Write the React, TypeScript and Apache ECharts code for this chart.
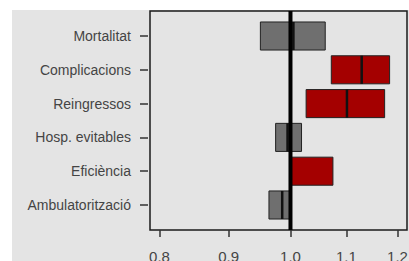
import React, { useEffect, useRef } from "react";
import * as echarts from "echarts";

// Categories, top to bottom
const categories = [
  "Mortalitat",
  "Complicacions",
  "Reingressos",
  "Hosp. evitables",
  "Eficiència",
  "Ambulatorització",
];
// Interval bounds and central estimate (ratio scale)
const lows = [0.95, 1.072, 1.027, 0.975, 1.0, 0.964];
const medians = [1.005, 1.129, 1.101, 0.995, 1.0, 0.986];
const highs = [1.061, 1.184, 1.174, 1.019, 1.075, 0.999];
const xTicks = [0.8, 0.9, 1.0, 1.1, 1.2];
const refValue = 1.0;

const RED = "#a40000";
const GREY = "#6f6f6f";

export default function App() {
  const ref = useRef<HTMLDivElement>(null);

  useEffect(() => {
    if (!ref.current) return;
    const chart = echarts.init(ref.current, undefined, { renderer: "svg" });
    const n = categories.length;
    const lnMin = Math.log(xTicks[0]);
    const lnMax = Math.log(xTicks[xTicks.length - 1]);
    const ext = 0.04 * (lnMax - lnMin);
    const yPad = 0.04 * n;

    const data = categories.map((c, i) => [
      Math.log(lows[i]),
      Math.log(medians[i]),
      Math.log(highs[i]),
      n - i,
      lows[i] >= refValue ? 1 : 0,
    ]);

    chart.setOption({
      animation: false,
      backgroundColor: "transparent",
      grid: {
        left: 150,
        right: 2,
        top: 11,
        bottom: 31,
        show: true,
        borderColor: "#1a1a1a",
        borderWidth: 1.5,
        backgroundColor: "transparent",
        outerBoundsMode: "none",
        containLabel: false,
      },
      xAxis: {
        type: "value",
        min: lnMin - ext,
        max: lnMax + ext,
        splitLine: { show: false },
        axisLine: { show: false, onZero: false },
        axisTick: {
          show: true,
          length: 7,
          customValues: xTicks.map((v) => Math.log(v)),
          lineStyle: { color: "#333", width: 1.5 },
        },
        axisLabel: {
          show: true,
          customValues: xTicks.map((v) => Math.log(v)),
          formatter: (v: number) => Math.exp(v).toFixed(1),
          margin: 19,
          fontSize: 15,
          color: "#444",
          fontFamily: "Liberation Sans, Arial, sans-serif",
        },
      },
      yAxis: {
        type: "value",
        min: 0.5 - yPad,
        max: n + 0.5 + yPad,
        offset: 2,
        splitLine: { show: false },
        axisLine: { show: false, onZero: false },
        axisTick: {
          show: true,
          length: 8,
          customValues: categories.map((_, i) => n - i),
          lineStyle: { color: "#333", width: 1.5 },
        },
        axisLabel: {
          show: true,
          customValues: categories.map((_, i) => n - i),
          formatter: (v: number) => categories[n - Math.round(v)],
          margin: 17,
          fontSize: 14,
          color: "#444",
          fontFamily: "Liberation Sans, Arial, sans-serif",
        },
      },
      series: [
        {
          type: "custom",
          data,
          encode: { x: [0, 1, 2], y: 3 },
          renderItem: (params: any, api: any) => {
            const lo = api.value(0);
            const md = api.value(1);
            const hi = api.value(2);
            const y = api.value(3);
            const sig = api.value(4);
            const pLo = api.coord([lo, y]);
            const pHi = api.coord([hi, y]);
            const pMd = api.coord([md, y]);
            const h = api.size([0, 1])[1] * 0.83;
            return {
              type: "group",
              children: [
                {
                  type: "rect",
                  shape: { x: pLo[0], y: pLo[1] - h / 2, width: pHi[0] - pLo[0], height: h },
                  style: { fill: sig ? RED : GREY, stroke: "#222", lineWidth: 1 },
                },
                {
                  type: "line",
                  shape: { x1: pMd[0], y1: pMd[1] - h / 2, x2: pMd[0], y2: pMd[1] + h / 2 },
                  style: { stroke: "#111", lineWidth: 2.5 },
                },
              ],
            };
          },
          z: 2,
        },
        {
          type: "line",
          data: [
            [Math.log(refValue), 0.5 - yPad],
            [Math.log(refValue), n + 0.5 + yPad],
          ],
          symbol: "none",
          lineStyle: { color: "#000", width: 4 },
          z: 3,
          silent: true,
        },
      ],
    });
    return () => chart.dispose();
  }, []);

  return (
    <div style={{ position: "fixed", left: 0, top: 0, width: 409, height: 261, background: "#fff" }}>
      <div style={{ position: "absolute", left: 12, top: 10, width: 397, height: 251, background: "#e4e4e4" }} />
      <div ref={ref} style={{ position: "absolute", left: 0, top: 0, width: 409, height: 261 }} />
    </div>
  );
}
